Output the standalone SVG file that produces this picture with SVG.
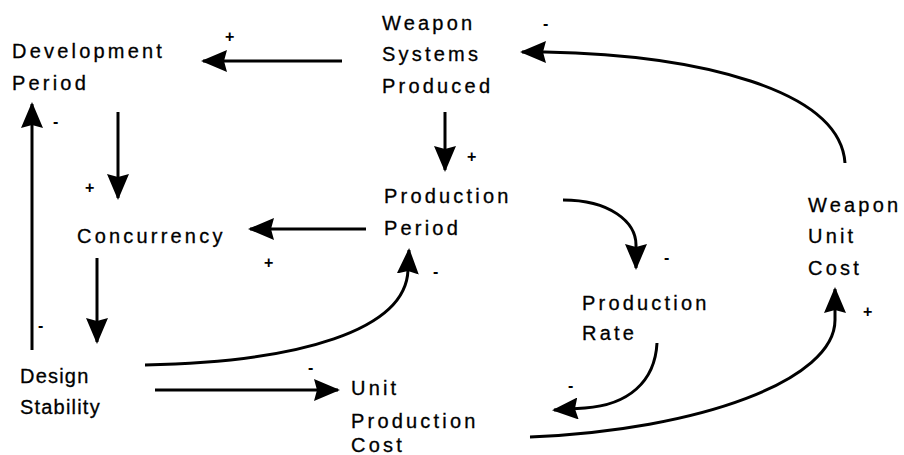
<svg xmlns="http://www.w3.org/2000/svg" width="904" height="455" viewBox="0 0 904 455">
<style>
.t{font-family:"Liberation Sans",Arial,sans-serif;font-size:20px;letter-spacing:3.2px;fill:#000;stroke:#000;stroke-width:0.3}
.s{font-family:"Liberation Sans",Arial,sans-serif;font-size:16px;font-weight:bold;fill:#000}
.c{fill:none;stroke:#000;stroke-width:3}
</style>
<defs>
<marker id="ah" markerUnits="userSpaceOnUse" viewBox="0 0 26 22" markerWidth="26" markerHeight="22" refX="24" refY="11" orient="auto">
<path d="M0,0 L26,11 L0,22 L3,11 z" fill="#000"/>
</marker>
</defs>
<rect width="904" height="455" fill="#fff"/>
<g id="development-period"><text class="t" x="12" y="58">Development</text><text class="t" x="12" y="90">Period</text></g>
<g id="weapon-systems-produced"><text class="t" x="382" y="30">Weapon</text><text class="t" x="382" y="61">Systems</text><text class="t" x="382" y="93">Produced</text></g>
<g id="production-period"><text class="t" x="384" y="203">Production</text><text class="t" x="384" y="235">Period</text></g>
<g id="concurrency"><text class="t" x="77" y="243">Concurrency</text></g>
<g id="weapon-unit-cost"><text class="t" x="808" y="212">Weapon</text><text class="t" x="808" y="243">Unit</text><text class="t" x="808" y="275">Cost</text></g>
<g id="production-rate"><text class="t" x="582" y="310">Production</text><text class="t" x="582" y="340">Rate</text></g>
<g id="design-stability"><text class="t" x="20" y="383" style="letter-spacing:1.2px">Design</text><text class="t" x="20" y="414" style="letter-spacing:1.2px">Stability</text></g>
<g id="unit-production-cost"><text class="t" x="351" y="395">Unit</text><text class="t" x="351" y="428">Production</text><text class="t" x="351" y="452">Cost</text></g>
<g id="connectors">
<path class="c" marker-end="url(#ah)" d="M342,61 L203,61"/>
<path class="c" marker-end="url(#ah)" d="M445,112 L445,170"/>
<path class="c" marker-end="url(#ah)" d="M118,112 L118,198"/>
<path class="c" marker-end="url(#ah)" d="M366,229 L250,229"/>
<path class="c" marker-end="url(#ah)" d="M97,258 L97,342"/>
<path class="c" marker-end="url(#ah)" d="M32,350 L32,104"/>
<path class="c" marker-end="url(#ah)" d="M145,365 C300,362 406,330 408,270 L409,250"/>
<path class="c" marker-end="url(#ah)" d="M155,390 L338,390"/>
<path class="c" marker-end="url(#ah)" d="M563,200 C610,200 636,222 636,245 L636,268"/>
<path class="c" marker-end="url(#ah)" d="M657,343 C655,382 628,405 585,408 L554,410"/>
<path class="c" marker-end="url(#ah)" d="M530,437 C700,430 835,380 835,320 L835,289"/>
<path class="c" marker-end="url(#ah)" d="M845,163 C840,90 700,55 545,52 L522,52"/>
<text class="s" x="225" y="42">+</text>
<text class="s" x="467" y="162">+</text>
<text class="s" x="85" y="193">+</text>
<text class="s" x="264" y="268">+</text>
<text class="s" x="38" y="331">-</text>
<text class="s" x="53" y="127">-</text>
<text class="s" x="433" y="277">-</text>
<text class="s" x="308" y="373">-</text>
<text class="s" x="664" y="263">-</text>
<text class="s" x="568" y="391">-</text>
<text class="s" x="863" y="317">+</text>
<text class="s" x="543" y="29">-</text>
</g>
</svg>
